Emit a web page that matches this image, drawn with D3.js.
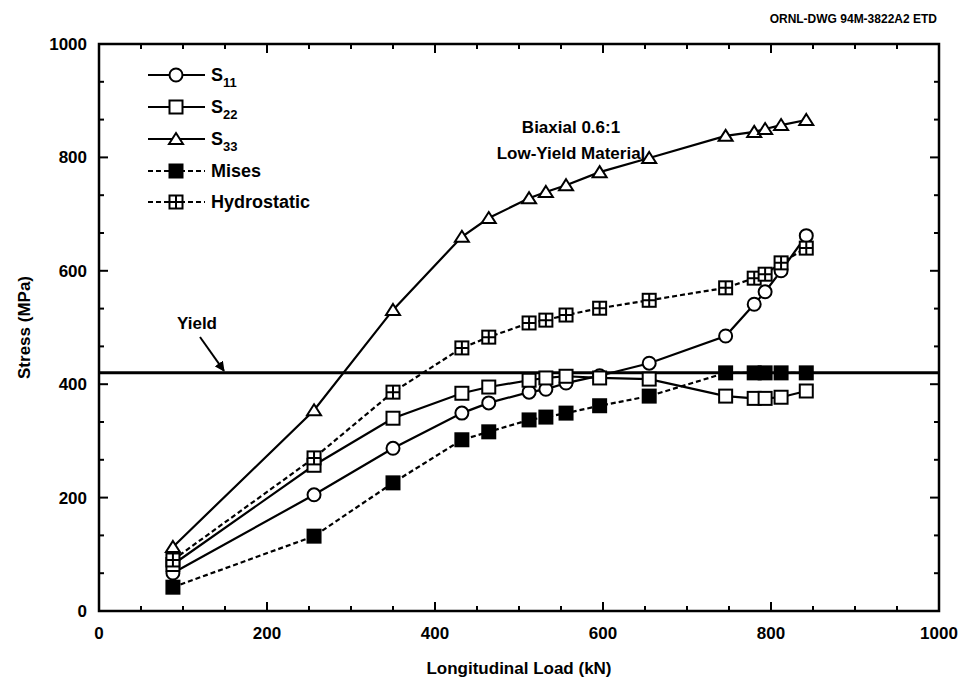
<!DOCTYPE html>
<html>
<head>
<meta charset="utf-8">
<script src="https://cdn.jsdelivr.net/npm/d3@7"></script>
<style>
  body { margin: 0; background: #fff; }
  svg { font-family: "Liberation Sans", Arial, sans-serif; font-weight: bold; }
</style>
</head>
<body>
<div id="chart"></div>
<script>
// longitudinal load (kN) for each data point
const loads = [88, 256, 350, 432, 464, 512, 532, 556, 596, 655, 746, 780, 793, 812, 842];

const s11 = [67, 205, 287, 349, 367, 386, 391, 402, 415, 437, 485, 541, 563, 600, 662];
const s22 = [82, 257, 340, 384, 395, 407, 411, 414, 411, 409, 379, 375, 375, 377, 388];
const s33 = [113, 354, 531, 660, 693, 728, 739, 751, 774, 799, 838, 845, 850, 857, 866];
const mises = [42, 132, 226, 302, 316, 337, 342, 349, 362, 379, 420, 420, 420, 420, 420];
const hydro = [90, 270, 386, 464, 483, 508, 513, 522, 534, 548, 570, 587, 594, 614, 640];

const yieldStress = 420;

const xTicks = [0, 200, 400, 600, 800, 1000];
const yTicks = [0, 200, 400, 600, 800, 1000];

const seriesNames = ['S11', 'S22', 'S33', 'Mises', 'Hydrostatic'];
const seriesValues = [s11, s22, s33, mises, hydro];
const seriesMarkers = ['circle', 'square', 'triangle', 'filled', 'hydro'];
const seriesDashed = [false, false, false, true, true];

const W = 967, H = 688;
const margin = {left: 99, right: 28, top: 44, bottom: 77};

const svg = d3.select('#chart').append('svg')
    .attr('width', W)
    .attr('height', H);

const x = d3.scaleLinear().domain([0, 1000]).range([margin.left, W - margin.right]);
const y = d3.scaleLinear().domain([0, 1000]).range([H - margin.bottom, margin.top]);

// frame
svg.append('rect')
    .attr('x', x(0)).attr('y', y(1000))
    .attr('width', x(1000) - x(0)).attr('height', y(0) - y(1000))
    .attr('fill', 'none').attr('stroke', '#000').attr('stroke-width', 2.5);

// inward ticks on all four sides
const xMinor = d3.range(0, 1001, 50);
const yMinor = d3.range(0, 1001, 200 / 3);
function tickLen(v) { return Math.abs(v % 200) < 0.01 || Math.abs(v % 200 - 200) < 0.01 ? 9 : 5; }

const ticks = svg.append('g').attr('stroke', '#000').attr('stroke-width', 2);
xMinor.forEach(v => {
    const l = tickLen(v);
    ticks.append('line').attr('x1', x(v)).attr('x2', x(v)).attr('y1', y(0)).attr('y2', y(0) - l);
    ticks.append('line').attr('x1', x(v)).attr('x2', x(v)).attr('y1', y(1000)).attr('y2', y(1000) + l);
});
yMinor.forEach(v => {
    const l = tickLen(Math.round(v));
    ticks.append('line').attr('y1', y(v)).attr('y2', y(v)).attr('x1', x(0)).attr('x2', x(0) + l);
    ticks.append('line').attr('y1', y(v)).attr('y2', y(v)).attr('x1', x(1000)).attr('x2', x(1000) - l);
});

// tick labels
svg.append('g').selectAll('text').data(xTicks).enter().append('text')
    .attr('x', d => x(d)).attr('y', y(0) + 28)
    .attr('text-anchor', 'middle').attr('font-size', 17)
    .text(d => d);
svg.append('g').selectAll('text').data(yTicks).enter().append('text')
    .attr('x', x(0) - 12).attr('y', d => y(d) + 6)
    .attr('text-anchor', 'end').attr('font-size', 17)
    .text(d => d);

// axis titles
svg.append('text')
    .attr('x', (x(0) + x(1000)) / 2).attr('y', 674)
    .attr('text-anchor', 'middle').attr('font-size', 17)
    .text('Longitudinal Load (kN)');
svg.append('text')
    .attr('transform', `translate(30,${(y(0) + y(1000)) / 2}) rotate(-90)`)
    .attr('text-anchor', 'middle').attr('font-size', 17)
    .text('Stress (MPa)');

svg.append('text')
    .attr('x', 937).attr('y', 23)
    .attr('text-anchor', 'end').attr('font-size', 12)
    .text('ORNL-DWG 94M-3822A2 ETD');

svg.append('text')
    .attr('x', 571).attr('y', 133)
    .attr('text-anchor', 'middle').attr('font-size', 17)
    .text('Biaxial 0.6:1');
svg.append('text')
    .attr('x', 571).attr('y', 159)
    .attr('text-anchor', 'middle').attr('font-size', 17)
    .text('Low-Yield Material');

// yield line
svg.append('line')
    .attr('x1', x(0)).attr('x2', x(1000))
    .attr('y1', y(yieldStress)).attr('y2', y(yieldStress))
    .attr('stroke', '#000').attr('stroke-width', 3);
svg.append('text')
    .attr('x', 197).attr('y', 329)
    .attr('text-anchor', 'middle').attr('font-size', 17)
    .text('Yield');
svg.append('defs').append('marker')
    .attr('id', 'arrow').attr('viewBox', '0 0 10 10')
    .attr('refX', 9).attr('refY', 5)
    .attr('markerWidth', 5).attr('markerHeight', 5)
    .attr('orient', 'auto')
    .append('path').attr('d', 'M0,0L10,5L0,10z').attr('fill', '#000');
svg.append('line')
    .attr('x1', 200).attr('y1', 337)
    .attr('x2', 224).attr('y2', y(yieldStress) - 2)
    .attr('stroke', '#000').attr('stroke-width', 2)
    .attr('marker-end', 'url(#arrow)');

// markers
function drawMarker(g, kind, cx, cy) {
    const s = 6.5;
    if (kind === 'circle') {
        g.append('circle').attr('cx', cx).attr('cy', cy).attr('r', 6.5)
            .attr('fill', '#fff').attr('stroke', '#000').attr('stroke-width', 2);
    } else if (kind === 'square' || kind === 'filled' || kind === 'hydro') {
        g.append('rect').attr('x', cx - s).attr('y', cy - s).attr('width', 2 * s).attr('height', 2 * s)
            .attr('fill', kind === 'filled' ? '#000' : '#fff')
            .attr('stroke', '#000').attr('stroke-width', 2);
        if (kind === 'hydro') {
            g.append('path')
                .attr('d', `M${cx},${cy - s}V${cy + s}M${cx - s},${cy}H${cx + s}`)
                .attr('stroke', '#000').attr('stroke-width', 2);
        }
    } else if (kind === 'triangle') {
        g.append('path')
            .attr('d', `M${cx},${cy - 6}L${cx + 7},${cy + 5}L${cx - 7},${cy + 5}Z`)
            .attr('fill', '#fff').attr('stroke', '#000').attr('stroke-width', 2);
    }
}

const line = d3.line().x(d => x(d[0])).y(d => y(d[1]));

seriesValues.forEach((vals, i) => {
    const pts = loads.map((l, j) => [l, vals[j]]);
    const g = svg.append('g');
    g.append('path')
        .attr('d', line(pts))
        .attr('fill', 'none').attr('stroke', '#000').attr('stroke-width', 2.2)
        .attr('stroke-dasharray', seriesDashed[i] ? '5,3' : null);
    pts.forEach(p => drawMarker(g, seriesMarkers[i], x(p[0]), y(p[1])));
});

// legend
const legendY = [75, 107, 139, 171, 202];
seriesNames.forEach((name, i) => {
    const g = svg.append('g');
    const ly = legendY[i];
    g.append('line').attr('x1', 148).attr('x2', 205).attr('y1', ly).attr('y2', ly)
        .attr('stroke', '#000').attr('stroke-width', 2.2)
        .attr('stroke-dasharray', seriesDashed[i] ? '5,3' : null);
    drawMarker(g, seriesMarkers[i], 176, ly);
    const t = g.append('text').attr('x', 211).attr('y', ly + 6).attr('font-size', 18);
    if (name.startsWith('S') && name.length === 3) {
        t.append('tspan').text('S');
        t.append('tspan').attr('dy', 6).attr('font-size', 13).text(name.slice(1));
    } else {
        t.text(name);
    }
});
</script>
</body>
</html>
